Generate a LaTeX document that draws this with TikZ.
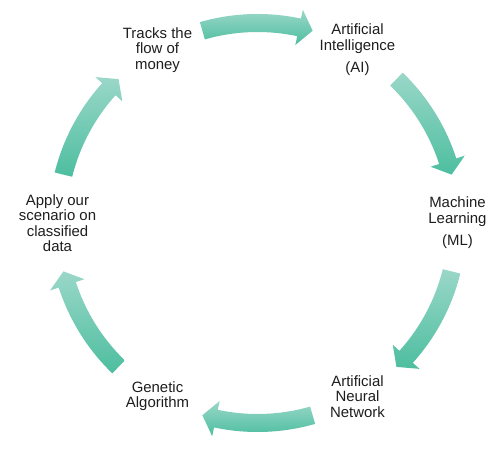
\documentclass[tikz,border=0pt]{standalone}
\usepackage{fontspec}
\setmainfont{Liberation Sans}
\definecolor{CycleLight}{HTML}{9AD7C9}
\definecolor{CycleDark}{HTML}{4DBE9F}
\definecolor{LabelInk}{HTML}{1E1E1E}
\tikzset{
  steplab/.style={align=center, inner sep=0pt, text=LabelInk,
                  font=\fontsize{8.5}{8.8}\selectfont},
  flowarc/.style={top color=CycleLight, bottom color=CycleDark, draw=none},
}
% one curved arrow of the cycle, centred on angle #1, running clockwise
\newcommand{\cyclearrow}[1]{%
  \pgfmathsetmacro{\arcfrom}{#1+16}
  \pgfmathsetmacro{\arcto}{#1-16}
  \pgfmathsetmacro{\arcneck}{#1-12}
  \shade[flowarc, shift={(hub)}]
    (\arcfrom:191) arc[start angle=\arcfrom, end angle=\arcneck, radius=191]
    -- (\arcneck:182) -- (\arcto:200) -- (\arcneck:218) -- (\arcneck:209)
    arc[start angle=\arcneck, end angle=\arcfrom, radius=209] -- cycle;
}

\begin{document}
\begin{tikzpicture}[x=0.02cm, y=0.02cm]
    \fill[white] (0,0) rectangle (500,456);
    \useasboundingbox (0,0) rectangle (500,456);
    \coordinate (hub) at (257.5,233);

    \node[steplab] (tracks) at ([shift={(120:200)}]hub) {Tracks the\\flow of\\money};
    \node[steplab] (ai) at ([shift={(60:200)}]hub) {Artificial\\Intelligence\\[4pt](AI)};
    \node[steplab] (ml) at ([shift={(0:200)}]hub) {Machine\\Learning\\[4pt](ML)};
    \node[steplab] (ann) at ([shift={(-60:200)}]hub) {Artificial\\Neural\\Network};
    \node[steplab] (ga) at ([shift={(-120:200)}]hub) {Genetic\\Algorithm};
    \node[steplab] (apply) at ([shift={(180:200)}]hub)
      {Apply our\\scenario on\\classified\\data};

    \foreach \mid in {90, 30, -30, -90, -150, 150}
      {\cyclearrow{\mid}}
\end{tikzpicture}
\end{document}
